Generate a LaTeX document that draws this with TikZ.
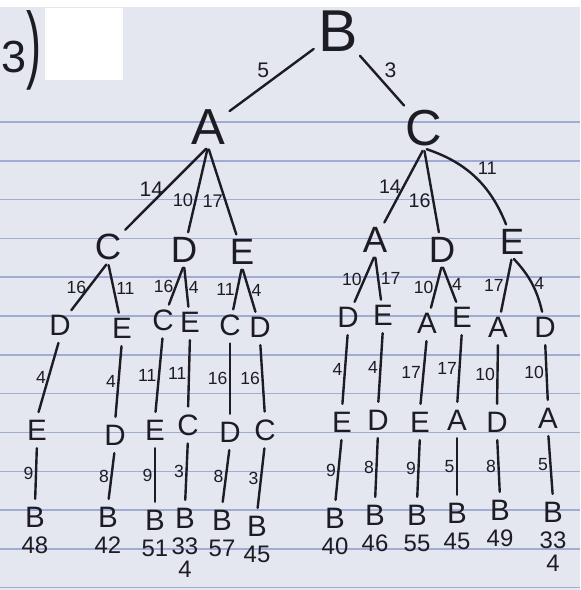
\documentclass[tikz,border=0pt]{standalone}
\usepackage{fontspec}
\setmainfont{Liberation Sans}
\usetikzlibrary{positioning}
\definecolor{paper}{RGB}{228,230,240}
\definecolor{ruling}{RGB}{160,172,212}
\definecolor{ink}{RGB}{28,28,34}

\begin{document}
\begin{tikzpicture}[x=0.025cm,y=-0.025cm,
  city/.style={inner sep=1.5pt,text=ink},
  top/.style={city,font=\fontsize{42}{42}\selectfont},
  big/.style={city,font=\fontsize{36}{36}\selectfont},
  mid/.style={city,font=\fontsize{26}{26}\selectfont},
  small/.style={city,font=\fontsize{21}{21}\selectfont},
  cost/.style={text=ink,inner sep=1pt,font=\fontsize{12.5}{12.5}\selectfont},
  road/.style={draw=ink,line width=1.7pt,line cap=round,shorten <=2pt,shorten >=2pt},
  total/.style={text=ink,inner sep=1pt,font=\fontsize{17}{17}\selectfont}]

% paper
\useasboundingbox (0,0) rectangle (580,590);
\fill[white] (0,0) rectangle (580,590);
\fill[paper] (0,7) rectangle (580,590);
\foreach \k in {0,...,12}
  \draw[ruling,line width=1pt] (0,{122+38.8*\k}) -- (580,{122+38.8*\k});
\fill[white] (45,8) rectangle (123,80);
\node[text=ink,font=\fontsize{32}{32}\selectfont,inner sep=0pt,anchor=west] (task) at (1,50)
  {3\scalebox{1}[1.9]{)}};

% root and first level
\node[top] (b)  at (338,31)  {B};
\node[big] (ba) at (208,127) {A};
\node[big] (bc) at (424,128) {C};
\draw[road] (b) -- node[cost,above left,font=\fontsize{15}{15}\selectfont]{5} (ba);
\draw[road] (b) -- node[cost,above right,font=\fontsize{15}{15}\selectfont]{3} (bc);

% second level
\node[mid] (bac) at (108,247) {C};
\node[mid] (bad) at (184,250) {D};
\node[mid] (bae) at (242,252) {E};
\node[mid] (bca) at (375,240) {A};
\node[mid] (bcd) at (442,250) {D};
\node[mid] (bce) at (512,242) {E};
\draw[road] (ba.south) -- node[cost,left,font=\fontsize{15}{15}\selectfont]{14} (bac);
\draw[road] (ba.south) -- node[cost,left,pos=0.6,font=\fontsize{13}{13}\selectfont]{10} (bad);
\draw[road] (ba.south) -- node[cost,left,pos=0.6,font=\fontsize{13}{13}\selectfont]{17} (bae);
\draw[road] (bc.south) -- node[cost,left,font=\fontsize{14}{14}\selectfont]{14} (bca);
\draw[road] (bc.south) -- node[cost,left,pos=0.6,font=\fontsize{14}{14}\selectfont]{16} (bcd);
\draw[road] (bc.south) to[bend left=25]
  node[cost,above right,font=\fontsize{13}{13}\selectfont]{11} (bce);

% third level
\node[small] (bacd) at (60,325)  {D};
\node[small] (bace) at (122,328) {E};
\node[small] (badc) at (163,320) {C};
\node[small] (bade) at (190,322) {E};
\node[small] (baec) at (230,325) {C};
\node[small] (baed) at (260,327) {D};
\node[small] (bcad) at (348,317) {D};
\node[small] (bcae) at (383,315) {E};
\node[small] (bcda) at (427,323) {A};
\node[small] (bcde) at (462,317) {E};
\node[small] (bcea) at (498,327) {A};
\node[small] (bced) at (545,327) {D};
\draw[road] (bac.south) -- node[cost,left]{16} (bacd);
\draw[road] (bac.south) -- node[cost,right]{11} (bace);
\draw[road] (bad.south) -- node[cost,left]{16} (badc);
\draw[road] (bad.south) -- node[cost,right]{4} (bade);
\draw[road] (bae.south) -- node[cost,left]{11} (baec);
\draw[road] (bae.south) -- node[cost,right]{4} (baed);
\draw[road] (bca.south) -- node[cost,left]{10} (bcad);
\draw[road] (bca.south) -- node[cost,right]{17} (bcae);
\draw[road] (bcd.south) -- node[cost,left]{10} (bcda);
\draw[road] (bcd.south) -- node[cost,right]{4} (bcde);
\draw[road] (bce.south) -- node[cost,left]{17} (bcea);
\draw[road] (bce.south) to[bend left=15] node[cost,right]{4} (bced);

% last two legs and tour lengths
\foreach \p/\q/\xa/\ya/\wa/\xb/\yb/\wb/\tot in {
  bacd/E/37/430/4/35/517/9/48,   bace/D/115/435/4/108/517/8/42,
  badc/E/155/430/11/155/520/9/51, bade/C/188/425/11/185/518/3/33,
  baec/D/230/432/16/222/520/8/57, baed/C/265/430/16/257/526/3/45,
  bcad/E/342/422/4/335/518/9/40,  bcae/D/378/420/4/375/515/8/46,
  bcda/E/420/422/17/417/515/9/55, bcde/A/457/420/17/457/513/5/45,
  bcea/D/497/422/10/500/510/8/49, bced/A/548/418/10/553/512/5/33}
 {\node[small] (\p-l4) at (\xa,\ya) {\q};
  \draw[road,shorten <=4pt,shorten >=4pt] (\p.south) -- node[cost,left]{\wa} (\p-l4.north);
  \node[small] (\p-b) at (\xb,\yb) {B};
  \draw[road,shorten <=4pt,shorten >=4pt] (\p-l4.south) -- node[cost,left]{\wb} (\p-b.north);
  \node[total,below=4pt of \p-b] (\p-t) {\tot};}
\node[total,below=2pt of bade-t] (best1) {4};
\node[total,below=2pt of bced-t] (best2) {4};
\end{tikzpicture}
\end{document}
